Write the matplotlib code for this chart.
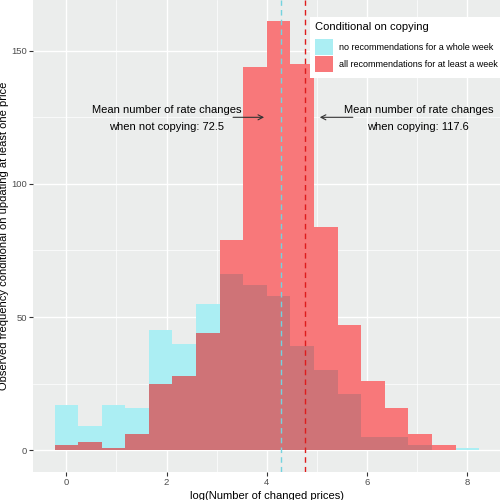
import numpy as np
import matplotlib
matplotlib.use("Agg")
import matplotlib.pyplot as plt
from matplotlib.patches import Patch

plt.rcParams['font.family'] = ['Liberation Sans', 'DejaVu Sans']

# ---- data ----
bin_start = -0.235
bin_width = 0.4705
no_rec_counts = [17, 9, 17, 16, 45, 40, 55, 66, 62, 58, 39, 30, 21, 5, 5, 2, 0, 1]
all_rec_counts = [2, 3, 1, 6, 25, 28, 44, 79, 144, 161, 145, 84, 47, 26, 16, 6, 2, 0]
series_labels = ["no recommendations for a whole week",
                 "all recommendations for at least a week"]
mean_no_copy = 72.5
mean_copy = 117.6
x_ticks = [0, 2, 4, 6, 8]
y_ticks = [0, 50, 100, 150]

c_cyan = "#ABEEF3"
c_red = "#F8787A"
c_overlap = "#CF7377"
bg = "#EBEDEC"

fig = plt.figure(figsize=(5, 5), dpi=100)
ax = fig.add_axes([0.0667, 0.0567, 0.9333, 0.9433])
ax.set_facecolor(bg)

n = len(no_rec_counts)
lefts = bin_start + bin_width * np.arange(n)
a = np.array(no_rec_counts, dtype=float)
b = np.array(all_rec_counts, dtype=float)

ax.bar(lefts, a, width=bin_width, align='edge', color=c_cyan, linewidth=0, zorder=2)
ax.bar(lefts, b, width=bin_width, align='edge', color=c_red, linewidth=0, zorder=3)
ax.bar(lefts, np.minimum(a, b), width=bin_width, align='edge', color=c_overlap, linewidth=0, zorder=4)

# mean lines
ax.axvline(np.log(mean_no_copy), color="#74D3DF", ls=(0, (4, 3)), lw=1.0, zorder=5)
ax.axvline(np.log(mean_copy), color="#DD1C1C", ls=(0, (4, 3)), lw=1.0, zorder=5)

# annotations
ax.text(2.0, 124.5, "Mean number of rate changes\nwhen not copying: %.1f" % mean_no_copy,
        ha='center', va='center', fontsize=8, color='black', linespacing=1.95, zorder=6)
ax.annotate("", xy=(4.0, 125), xytext=(3.27, 125),
            arrowprops=dict(arrowstyle='->,head_length=0.35,head_width=0.18', color='#333333', lw=0.8),
            zorder=6)
ax.text(7.02, 124.5, "Mean number of rate changes\nwhen copying: %.1f" % mean_copy,
        ha='center', va='center', fontsize=8, color='black', linespacing=1.95, zorder=6)
ax.annotate("", xy=(5.0, 125), xytext=(5.77, 125),
            arrowprops=dict(arrowstyle='->,head_length=0.35,head_width=0.18', color='#333333', lw=0.8),
            zorder=6)

# axes & grid
ax.set_xlim(-0.658, 8.65)
ax.set_ylim(-8.05, 169.05)
ax.set_xticks(x_ticks)
ax.set_yticks(y_ticks)
ax.set_xticks([1, 3, 5, 7], minor=True)
ax.set_yticks([25, 75, 125], minor=True)
ax.grid(which='major', color='white', lw=1.0, zorder=0)
ax.grid(which='minor', color='white', lw=0.5, zorder=0)
ax.set_axisbelow(True)
for s in ax.spines.values():
    s.set_visible(False)
ax.tick_params(which='major', length=2.6, width=0.8, color='#333333', labelsize=6.8,
               labelcolor='#4D4D4D', pad=2)
ax.tick_params(which='minor', length=0)

ax.set_xlabel("log(Number of changed prices)", fontsize=8, labelpad=3)
ax.set_ylabel("Observed frequency conditional on updating at least one price", fontsize=8, labelpad=1.5)

handles = [Patch(facecolor=c_cyan, edgecolor='none'), Patch(facecolor=c_red, edgecolor='none')]
leg = fig.legend(handles, series_labels, title="Conditional on copying",
                 loc='upper left', bbox_to_anchor=(0.62, 0.966), bbox_transform=fig.transFigure,
                 fontsize=6.5, title_fontsize=8, frameon=True, facecolor='white', edgecolor='none',
                 framealpha=1, fancybox=False, handlelength=1.9, handleheight=2.3,
                 labelspacing=0.15, handletextpad=0.7, borderpad=0.6, borderaxespad=0,
                 alignment='left')
leg._legend_box.sep = 5
leg.set_zorder(10)

fig.savefig("out.png", dpi=100)
